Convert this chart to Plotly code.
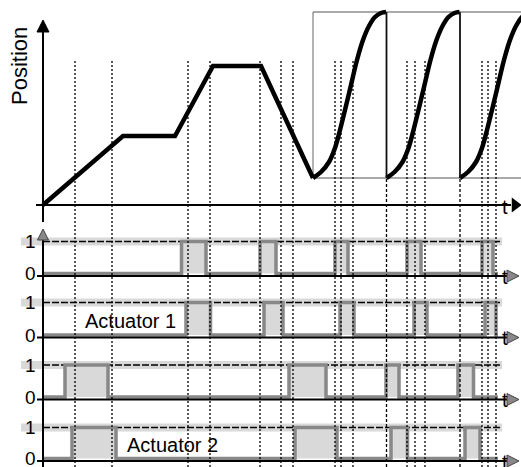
import plotly.graph_objects as go

W, H = 521, 467

# ---------------- data ----------------
# time axis: t = 0 at the origin of the axes (arbitrary time units)
ramp_t = [0, 80, 132, 170, 218, 270]
ramp_pos = [0, 69, 69, 139, 139, 27]

cycle_starts = [270, 343.5, 417]
cycle_dt = [0, 8, 16, 22, 27, 32, 38, 44, 50, 56, 62, 68, 73]
cycle_pos = [27, 33, 43, 57, 75, 95, 120, 145, 165, 179, 188, 192, 193]
box_low, box_high = 27, 193

marker_t = [32, 69, 145, 167, 217, 238, 250, 292, 298, 310,
            364, 372, 382, 439, 445, 453]
reset_t = [343.5, 417]

signal_labels = ["", "Actuator 1", "", "Actuator 2"]
pulses = [
    [(138.5, 163), (217, 233), (292, 305), (364, 378), (439, 450)],
    [(143, 167.5), (221, 240), (297, 311), (371, 384), (442, 453)],
    [(22, 65), (246, 283), (343, 356), (415, 430.5)],
    [(29, 73), (252, 294), (348, 364.5), (422, 437)],
]
signal_end = 455
level_ticks = ["0", "1"]

# ---------------- layout helpers (reference pixel geometry) ----------------
X0PX = 43                      # pixel of t = 0
TOP_ZERO_PX = 205
one_px = [241.5, 302.5, 365, 427.5]
zero_px = [273.5, 335, 397, 458.5]
FONT = "Liberation Sans, Arial, sans-serif"
GRAY = "#888888"
FILL = "#d9d9d9"


def t_of(px):
    return px - X0PX


def py(p):  # paper y for a pixel row
    return 1 - p / H


def px_(p):  # paper x for a pixel column
    return p / W


XR = [t_of(0), t_of(W)]

fig = go.Figure()

# top panel: position curve
fig.add_trace(go.Scatter(x=ramp_t, y=ramp_pos, mode="lines",
                         line=dict(color="black", width=4.5), yaxis="y",
                         hoverinfo="skip"))
for c in cycle_starts:
    fig.add_trace(go.Scatter(x=[c + d for d in cycle_dt], y=cycle_pos,
                             mode="lines",
                             line=dict(color="black", width=4.5, shape="spline", smoothing=1.0),
                             yaxis="y", hoverinfo="skip"))

# signal panels
for k, pl in enumerate(pulses):
    xs, ys = [0], [0]
    for s, e in pl:
        xs += [s, s, e, e]
        ys += [0, 1, 1, 0]
    xs.append(signal_end)
    ys.append(0)
    fig.add_trace(go.Scatter(x=xs, y=ys, mode="lines", fill="tozeroy",
                             fillcolor=FILL,
                             line=dict(color=GRAY, width=3.5),
                             yaxis=f"y{k + 2}", hoverinfo="skip"))

# arrowhead of the top time axis
fig.add_trace(go.Scatter(x=[t_of(515)], y=[0], mode="markers", yaxis="y",
                         marker=dict(symbol="triangle-right", size=13, color="black",
                                     line=dict(width=0)),
                         cliponaxis=False, hoverinfo="skip"))

shapes = []
annotations = []

# top panel box
shapes += [
    dict(type="line", xref="x", yref="y", x0=cycle_starts[0], x1=XR[1] + 5,
         y0=box_high, y1=box_high, line=dict(color="#555555", width=1.2), layer="below"),
    dict(type="line", xref="x", yref="y", x0=cycle_starts[0], x1=XR[1] + 5,
         y0=box_low, y1=box_low, line=dict(color="#555555", width=1.2), layer="below"),
    dict(type="line", xref="x", yref="y", x0=cycle_starts[0], x1=cycle_starts[0],
         y0=box_low, y1=box_high, line=dict(color="#666666", width=1), layer="below"),
]
for c in cycle_starts[1:]:
    shapes.append(dict(type="line", xref="x", yref="y", x0=c, x1=c,
                       y0=box_low, y1=box_high, line=dict(color="#111111", width=1.8)))

# top panel axes
shapes += [
    dict(type="line", xref="x", yref="y", x0=0, x1=0,
         y0=TOP_ZERO_PX - 222, y1=TOP_ZERO_PX - 32, line=dict(color="black", width=2)),
    dict(type="path", xref="x", yref="y", xsizemode="pixel", ysizemode="pixel",
         xanchor=0, yanchor=TOP_ZERO_PX - 20, path="M-6,-12 L6,-12 L0,0 Z",
         fillcolor="black", line=dict(color="black", width=1)),
    dict(type="line", xref="x", yref="y", x0=t_of(36), x1=t_of(511),
         y0=0, y1=0, line=dict(color="black", width=2)),
]
annotations.append(dict(text="t", x=t_of(505), y=-2, xref="x", yref="y",
                        showarrow=False, font=dict(family=FONT, size=20, color="black"),
                        xanchor="center", yanchor="middle"))
annotations.append(dict(text="Position", x=px_(20), y=py(66), xref="paper", yref="paper",
                        showarrow=False, textangle=-90,
                        font=dict(family=FONT, size=22, color="black"),
                        xanchor="center", yanchor="middle"))

# signal panel axes
shapes.append(dict(type="line", xref="x", yref="paper", x0=0, x1=0,
                   y0=0, y1=py(236), line=dict(color="black", width=2)))
shapes.append(dict(type="path", xref="x", yref="paper", xsizemode="pixel", ysizemode="pixel",
                   xanchor=0, yanchor=py(229), path="M-5.5,-11 L5.5,-11 L0,0 Z",
                   fillcolor=GRAY, line=dict(color="#444444", width=1)))

label_left_px = {1: 83, 3: 125}
for k in range(len(pulses)):
    yr = f"y{k + 2}"
    shapes.append(dict(type="rect", xref="x", yref=yr, x0=t_of(21), x1=t_of(502),
                       ysizemode="pixel", yanchor=1, y0=-4, y1=4,
                       fillcolor=FILL, line=dict(width=0), layer="below"))
    shapes.append(dict(type="line", xref="x", yref=yr, x0=0, x1=t_of(500),
                       y0=1, y1=1, line=dict(color="black", width=1.6, dash="7px,2px"),
                       layer="below"))
    shapes.append(dict(type="line", xref="x", yref=yr, x0=t_of(37), x1=t_of(508),
                       ysizemode="pixel", yanchor=0, y0=-2.5, y1=-2.5,
                       line=dict(color="black", width=2)))
    shapes.append(dict(type="path", xref="x", yref=yr, xsizemode="pixel", ysizemode="pixel",
                       xanchor=t_of(519), yanchor=0, path="M-12,-8.5 L-12,3.5 L0,-2.5 Z",
                       fillcolor=GRAY, line=dict(color="#444444", width=1)))
    annotations.append(dict(text="t", x=t_of(505), y=0, xref="x", yref=yr,
                            yshift=-3, showarrow=False,
                            font=dict(family=FONT, size=20, color="black"),
                            xanchor="center", yanchor="middle"))
    for lv, lab in enumerate(level_ticks):
        annotations.append(dict(text=lab, x=t_of(38), y=lv, xref="x", yref=yr,
                                showarrow=False, xanchor="right", yanchor="middle",
                                font=dict(family=FONT, size=19, color="black")))
    if signal_labels[k]:
        annotations.append(dict(text=signal_labels[k], x=t_of(label_left_px[k]), y=0,
                                xref="x", yref=yr, yshift=14, showarrow=False,
                                font=dict(family=FONT, size=20, color="black"),
                                xanchor="left", yanchor="middle"))

# vertical dotted marker lines and dashed reset lines
for m in marker_t:
    shapes.append(dict(type="line", xref="x", yref="paper", x0=m, x1=m,
                       y0=0, y1=py(60), line=dict(color="black", width=1.3, dash="2px,2px")))
for r in reset_t:
    shapes.append(dict(type="line", xref="x", yref="paper", x0=r, x1=r,
                       y0=0, y1=py(178), line=dict(color="black", width=1.3, dash="3px,2px")))

layout = dict(
    width=W, height=H, autosize=False,
    margin=dict(l=0, r=0, t=0, b=0, pad=0),
    paper_bgcolor="white", plot_bgcolor="white",
    showlegend=False,
    xaxis=dict(range=XR, visible=False, fixedrange=True),
    yaxis=dict(range=[TOP_ZERO_PX - H, TOP_ZERO_PX], visible=False, fixedrange=True),
    shapes=shapes, annotations=annotations,
)
for k in range(len(pulses)):
    s = zero_px[k] - one_px[k]
    layout[f"yaxis{k + 2}"] = dict(range=[(zero_px[k] - H) / s, zero_px[k] / s],
                                   visible=False, overlaying="y", fixedrange=True)
fig.update_layout(**layout)
fig.write_html("out.html", config={"displayModeBar": False},
               post_script="document.body.style.margin='0';document.body.style.overflow='hidden';")
